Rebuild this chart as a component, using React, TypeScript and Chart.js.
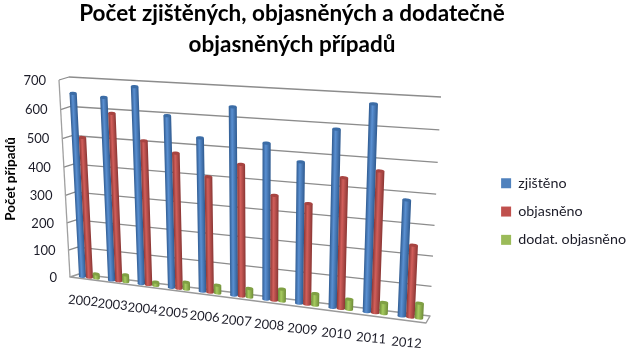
import { useEffect, useRef } from "react";
import { Chart, registerables } from "chart.js";

Chart.register(...registerables);

const years = ["2002", "2003", "2004", "2005", "2006", "2007", "2008", "2009", "2010", "2011", "2012"];
const zjisteno = [651, 644, 686, 597, 531, 640, 530, 478, 591, 677, 384];
const objasneno = [502, 592, 507, 474, 403, 454, 360, 343, 438, 469, 240];
const dodatObjasneno = [15, 25, 12, 25, 28, 30, 42, 40, 35, 38, 50];
const seriesNames = ["zjištěno", "objasněno", "dodat. objasněno"];
const seriesFill = ["#4F81BD", "#C0504D", "#9BBB59"];
const seriesShades = [
  { edge: "#2f5a8f", mid: "#5a90d2", cap: "#3b6ca6" },
  { edge: "#8a3634", mid: "#d25f5b", cap: "#a84441" },
  { edge: "#6d8a37", mid: "#a6cb5f", cap: "#80a044" },
];
const titleLines = ["Počet zjištěných, objasněných a dodatečně", "objasněných případů"];
const yTitle = "Počet případů";
const FONT = "Lato, 'Open Sans', sans-serif";

type P = [number, number];
// Corners of the tilted plot: TL, TR, BR, BL
const backWall: P[] = [[69, 77], [441, 97], [430, 316], [79, 274]];
const frontWall: P[] = [[59, 80], [437, 104], [426, 323], [70, 277]];

function makeHomography(q: P[]) {
  const [p0, p1, p2, p3] = q;
  const dx1 = p1[0] - p2[0], dx2 = p3[0] - p2[0], sx = p0[0] - p1[0] + p2[0] - p3[0];
  const dy1 = p1[1] - p2[1], dy2 = p3[1] - p2[1], sy = p0[1] - p1[1] + p2[1] - p3[1];
  const det = dx1 * dy2 - dx2 * dy1;
  const g = (sx * dy2 - dx2 * sy) / det;
  const h = (dx1 * sy - sx * dy1) / det;
  const a = p1[0] - p0[0] + g * p1[0], b = p3[0] - p0[0] + h * p3[0], c = p0[0];
  const d = p1[1] - p0[1] + g * p1[1], e = p3[1] - p0[1] + h * p3[1], f = p0[1];
  return (u: number, v: number): P => {
    const w = g * u + h * v + 1;
    return [(a * u + b * v + c) / w, (d * u + e * v + f) / w];
  };
}
const backH = makeHomography(backWall);
const frontH = makeHomography(frontWall);
function project(u: number, v: number, depth: number): P {
  const a = backH(u, v), b = frontH(u, v);
  return [a[0] + (b[0] - a[0]) * depth, a[1] + (b[1] - a[1]) * depth];
}

const BAR_DEPTH = 0.45;

const perspectivePlugin = {
  id: "perspective",
  afterLayout(chart: any) {
    const t = chart.titleBlock;
    if (t) {
      t.left = 42;
      t.right = 542;
      t.top -= 2;
      t.bottom -= 2;
    }
    const l = chart.legend;
    if (l) {
      l.left += 2;
      l.right += 2;
      l.top -= 2;
      l.bottom -= 2;
    }
  },
  beforeDatasetsDraw(chart: any) {
    const { ctx, chartArea: ca, scales } = chart;
    const U = (px: number) => (px - ca.left) / ca.width;
    const V = (py: number) => (py - ca.top) / ca.height;
    const yScale = scales.y, xScale = scales.x;
    ctx.save();

    // floor
    ctx.strokeStyle = "#9a9a9a";
    ctx.lineWidth = 1.4;
    ctx.lineJoin = "round";
    ctx.beginPath();
    const fl = [project(0, 1, 0), project(1, 1, 0), project(1, 1, 1), project(0, 1, 1)];
    fl.forEach((p, i) => (i ? ctx.lineTo(p[0], p[1]) : ctx.moveTo(p[0], p[1])));
    ctx.closePath();
    ctx.stroke();

    // wall grid lines
    ctx.strokeStyle = "#8c8c8c";
    ctx.lineWidth = 1.3;
    yScale.ticks.forEach((t: any) => {
      const v = V(yScale.getPixelForValue(t.value));
      if (t.value === 0) return;
      const a = project(0, v, 1), b = project(0, v, 0), c = project(1, v, 0);
      ctx.beginPath();
      ctx.moveTo(a[0], a[1]);
      ctx.lineTo(b[0], b[1]);
      ctx.lineTo(c[0], c[1]);
      ctx.stroke();
    });
    const wa = project(0, 0, 1), wb = project(0, 1, 1);
    ctx.strokeStyle = "#a0a0a0";
    ctx.beginPath();
    ctx.moveTo(wa[0], wa[1]);
    ctx.lineTo(wb[0], wb[1]);
    ctx.stroke();

    // y tick labels
    ctx.fillStyle = "#1c1c28";
    ctx.font = `13px ${FONT}`;
    ctx.textAlign = "right";
    ctx.textBaseline = "middle";
    yScale.ticks.forEach((t: any) => {
      const v = V(yScale.getPixelForValue(t.value));
      const p = project(0, v, 1);
      ctx.fillText(String(t.value), p[0] - 13, p[1] + 0.5);
    });

    // x tick labels
    ctx.textAlign = "center";
    years.forEach((label, i) => {
      const u = U(xScale.getPixelForValue(i));
      const p = project(u, 1, 1);
      ctx.save();
      ctx.translate(p[0] - 1.5, p[1] + 22);
      ctx.rotate((5 * Math.PI) / 180);
      ctx.fillText(label, 0, 0);
      ctx.restore();
    });

    // y title
    ctx.save();
    ctx.translate(11, 179);
    ctx.rotate(-Math.PI / 2);
    ctx.font = `bold 13.5px ${FONT}`;
    ctx.fillStyle = "#000";
    ctx.fillText(yTitle, 0, 0);
    ctx.restore();

    // bars
    for (let j = 0; j < years.length; j++) {
      for (let s = 0; s < chart.data.datasets.length; s++) {
        const el = chart.getDatasetMeta(s).data[j];
        const shade = seriesShades[s];
        const x0 = U(el.x - el.width / 2), x1 = U(el.x + el.width / 2);
        const vt = V(el.y), vb = V(el.base);
        const tl = project(x0, vt, BAR_DEPTH), tr = project(x1, vt, BAR_DEPTH);
        const bl = project(x0, vb, BAR_DEPTH), br = project(x1, vb, BAR_DEPTH);
        const tc: P = [(tl[0] + tr[0]) / 2, (tl[1] + tr[1]) / 2];
        const bc: P = [(bl[0] + br[0]) / 2, (bl[1] + br[1]) / 2];
        const rx = Math.hypot(tr[0] - tl[0], tr[1] - tl[1]) / 2;
        const ang = Math.atan2(tr[1] - tl[1], tr[0] - tl[0]);
        const ax = bc[0] - tc[0], ay = bc[1] - tc[1];
        const len = Math.hypot(ax, ay) || 1;
        const nx = ay / len, ny = -ax / len;
        const g = ctx.createLinearGradient(tc[0] - nx * rx, tc[1] - ny * rx, tc[0] + nx * rx, tc[1] + ny * rx);
        const flip = nx < 0;
        g.addColorStop(0, shade.edge);
        g.addColorStop(flip ? 0.6 : 0.4, shade.mid);
        g.addColorStop(1, shade.edge);
        ctx.fillStyle = g;
        ctx.beginPath();
        ctx.moveTo(tl[0], tl[1]);
        ctx.lineTo(bl[0], bl[1]);
        ctx.ellipse(bc[0], bc[1], rx, 1.6, ang, Math.PI, 0, true);
        ctx.lineTo(tr[0], tr[1]);
        ctx.closePath();
        ctx.fill();
        ctx.fillStyle = shade.cap;
        ctx.beginPath();
        ctx.ellipse(tc[0], tc[1], rx, 1.6, ang, 0, Math.PI * 2);
        ctx.fill();
      }
    }
    ctx.restore();
    return false;
  },
};

export default function App() {
  const ref = useRef<HTMLCanvasElement>(null);
  useEffect(() => {
    const chart = new Chart(ref.current!, {
      type: "bar",
      data: {
        labels: years,
        datasets: [zjisteno, objasneno, dodatObjasneno].map((data, i) => ({
          label: seriesNames[i],
          data,
          backgroundColor: seriesFill[i],
          borderWidth: 0,
          categoryPercentage: 0.72,
          barPercentage: 1,
        })),
      },
      options: {
        responsive: false,
        animation: false,
        layout: { padding: { left: 95, right: 0, top: 0, bottom: 0 } },
        scales: {
          x: { display: false },
          y: { display: false, min: 0, max: 700, ticks: { stepSize: 100 } },
        },
        plugins: {
          tooltip: { enabled: false },
          title: {
            display: true,
            text: titleLines,
            fullSize: false,
            color: "#000",
            font: { family: FONT, size: 22.5, weight: "bold", lineHeight: 1.38 },
            padding: { top: 0, bottom: 4 },
          },
          legend: {
            display: true,
            position: "right",
            fullSize: false,
            labels: {
              boxWidth: 10,
              boxHeight: 10,
              padding: 14,
              color: "#1c1c28",
              font: { family: FONT, size: 14.3 },
            },
          },
        },
      },
      plugins: [perspectivePlugin],
    } as any);
    return () => chart.destroy();
  }, []);
  return (
    <div style={{ position: "absolute", left: 0, top: 0, width: 634, height: 361 }}>
      <canvas ref={ref} width={634} height={361} style={{ display: "block" }} />
    </div>
  );
}
